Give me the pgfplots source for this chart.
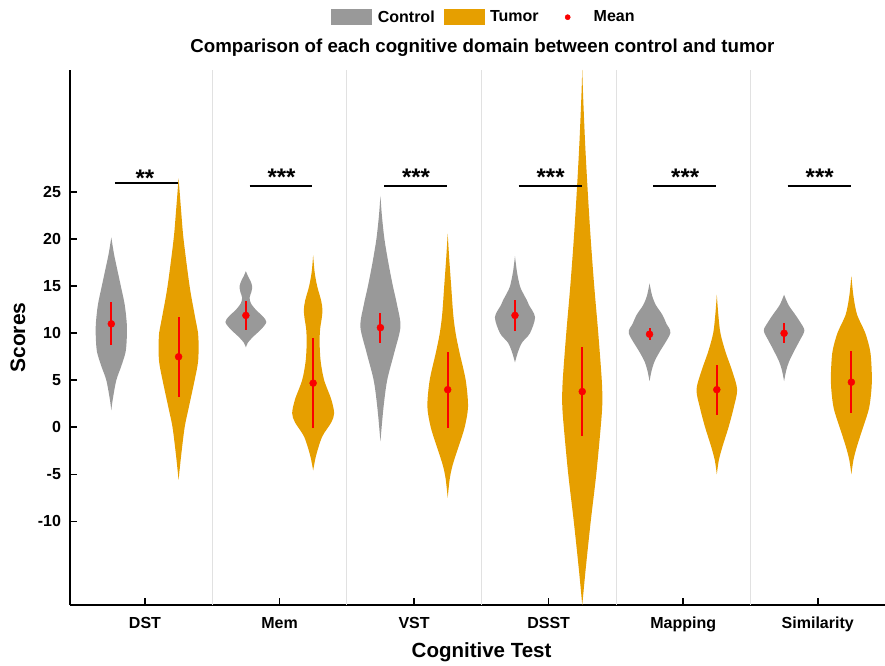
\documentclass[border=0pt]{standalone}
\usepackage{fontspec}
\setmainfont{Liberation Sans}
\usepackage{pgfplots}
\pgfplotsset{compat=1.18}
\usepgfplotslibrary{fillbetween}
\definecolor{ctrl}{RGB}{153,153,153}
\definecolor{tum}{RGB}{230,159,0}
\definecolor{sep}{RGB}{225,225,225}
\definecolor{meanred}{RGB}{250,0,0}
% #1 id, #2 centre, #3 colour, #4 table (y = score, w = half width in x units)
\newcommand{\violin}[4]{%
  \addplot[draw=none, smooth, name path=A#1, forget plot] table[x expr=#2+\thisrow{w}, y=y, row sep=\\]{#4};
  \addplot[draw=none, smooth, name path=B#1, forget plot] table[x expr=#2-\thisrow{w}, y=y, row sep=\\]{#4};
  \addplot[fill=#3, draw=none, forget plot] fill between[of=A#1 and B#1];
}
\newcommand{\sig}[2]{% centre, bar y
  \addplot[black, line width=1.6pt, forget plot] coordinates {(#1-0.223,#2) (#1+0.245,#2)};
}
\begin{document}
\begin{tikzpicture}
\begin{axis}[
  at={(70pt,60pt)}, anchor=south west,
  width=815pt, height=535pt, scale only axis,
  xmin=-0.557, xmax=5.5, ymin=-18.9, ymax=38,
  axis lines=left, axis line style={-, line width=2pt},
  tick align=inside, major tick length=7pt,
  tick style={black, line width=1.6pt},
  xtick={0,1,2,3,4,5},
  xticklabels={DST,Mem,VST,DSST,Mapping,Similarity},
  ytick={-10,-5,0,5,10,15,20,25},
  yticklabels={-10,-5,0,5,10,15,20,25},
  ticklabel style={font=\fontsize{16}{18}\selectfont\bfseries},
  xticklabel style={anchor=base, yshift=-23pt},
  yticklabel style={anchor=east, xshift=-5.5pt},
  xlabel={Cognitive Test}, ylabel={Scores},
  every axis x label/.style={at={(axis description cs:0.505,0)}, anchor=base, yshift=-52pt, font=\fontsize{20.5}{24}\selectfont\bfseries},
  every axis y label/.style={at={(axis description cs:-0.0552,0.5)}, anchor=base, rotate=90, font=\fontsize{21}{24}\selectfont\bfseries},
  title={Comparison of each cognitive domain between control and tumor},
  title style={at={(axis description cs:0.506,1)}, anchor=base, yshift=11pt, font=\fontsize{18.7}{22}\selectfont\bfseries},
  legend style={at={(axis description cs:0.508,1.0987)}, anchor=center, legend columns=3, draw=none, fill=none,
    font=\fontsize{16}{18}\selectfont\bfseries,
    /tikz/every odd column/.append style={column sep=4pt},
    /tikz/every even column/.append style={column sep=7pt}},
]
% separators
\addplot[sep, line width=0.8pt, forget plot] coordinates {(0.5,-18.9) (0.5,38)};
\addplot[sep, line width=0.8pt, forget plot] coordinates {(1.5,-18.9) (1.5,38)};
\addplot[sep, line width=0.8pt, forget plot] coordinates {(2.5,-18.9) (2.5,38)};
\addplot[sep, line width=0.8pt, forget plot] coordinates {(3.5,-18.9) (3.5,38)};
\addplot[sep, line width=0.8pt, forget plot] coordinates {(4.5,-18.9) (4.5,38)};

% DST
\violin{a}{-0.25}{ctrl}{y w\\ 1.8 0\\ 3 0.011\\ 5 0.037\\ 6.5 0.074\\ 8 0.106\\ 9.5 0.115\\ 11 0.115\\ 13 0.100\\ 15 0.071\\ 17 0.041\\ 18.5 0.019\\ 20.2 0\\}
\violin{b}{0.25}{tum}{y w\\ -5.6 0\\ -3 0.019\\ 0 0.045\\ 2 0.074\\ 5 0.119\\ 7 0.145\\ 9 0.149\\ 10 0.145\\ 12 0.119\\ 15 0.082\\ 20 0.037\\ 23 0.019\\ 26.5 0\\}
% Mem
\violin{c}{0.75}{ctrl}{y w\\ 8.5 0\\ 9 0.015\\ 9.6 0.052\\ 10.5 0.119\\ 11.2 0.152\\ 11.8 0.126\\ 12.5 0.074\\ 13.2 0.037\\ 13.8 0.028\\ 14.4 0.041\\ 15 0.047\\ 15.6 0.033\\ 16.1 0.015\\ 16.6 0\\}
\violin{d}{1.25}{tum}{y w\\ -4.6 0\\ -3 0.022\\ -1 0.067\\ 0.5 0.134\\ 1.5 0.156\\ 3 0.134\\ 5 0.082\\ 7 0.056\\ 9 0.048\\ 10.5 0.052\\ 11.5 0.063\\ 12.5 0.069\\ 13.5 0.059\\ 15 0.030\\ 16.5 0.011\\ 18.3 0\\}
% VST
\violin{e}{1.75}{ctrl}{y w\\ -1.5 0\\ 2 0.022\\ 5 0.050\\ 8 0.104\\ 10.7 0.149\\ 13 0.124\\ 15 0.093\\ 17.5 0.059\\ 20 0.030\\ 22.5 0.011\\ 24.6 0\\}
\violin{f}{2.25}{tum}{y w\\ -7.5 0\\ -5.5 0.015\\ -4 0.037\\ -2 0.082\\ 0 0.126\\ 2.2 0.151\\ 5 0.134\\ 8 0.087\\ 10 0.059\\ 12 0.041\\ 15 0.026\\ 18 0.011\\ 20.6 0\\}
% DSST
\violin{g}{2.75}{ctrl}{y w\\ 6.9 0\\ 8 0.022\\ 9 0.052\\ 10 0.111\\ 11.7 0.149\\ 13 0.104\\ 13.5 0.089\\ 14.3 0.059\\ 15 0.037\\ 16.5 0.015\\ 18.2 0\\}
\violin{h}{3.25}{tum}{y w\\ -18.9 0\\ -15 0.026\\ -10 0.063\\ -5 0.104\\ 0 0.137\\ 2.5 0.149\\ 5 0.145\\ 10 0.119\\ 15 0.089\\ 20 0.063\\ 25 0.041\\ 30 0.022\\ 35 0.007\\ 38 0\\}
% Mapping
\violin{i}{3.75}{ctrl}{y w\\ 4.9 0\\ 6 0.015\\ 7 0.037\\ 8 0.074\\ 10 0.154\\ 11 0.126\\ 12 0.094\\ 13 0.047\\ 14 0.019\\ 15.3 0\\}
\violin{j}{4.25}{tum}{y w\\ -5 0\\ -3.5 0.015\\ -2 0.043\\ 0 0.087\\ 2 0.124\\ 4 0.151\\ 6 0.114\\ 8 0.065\\ 10 0.027\\ 12 0.011\\ 14.1 0\\}
% Similarity
\violin{k}{4.75}{ctrl}{y w\\ 4.9 0\\ 6 0.015\\ 7 0.037\\ 8.5 0.089\\ 9.3 0.119\\ 10.3 0.151\\ 11.2 0.119\\ 12 0.082\\ 13 0.033\\ 14.1 0\\}
\violin{l}{5.25}{tum}{y w\\ -5 0\\ -3.5 0.015\\ -2 0.042\\ 0 0.087\\ 2 0.131\\ 4 0.149\\ 5.6 0.152\\ 8 0.141\\ 10 0.104\\ 12 0.042\\ 14 0.015\\ 16.1 0\\}

% significance bars
\sig{0}{26.0}
\sig{1}{25.64}
\sig{2}{25.64}
\sig{3}{25.64}
\sig{4}{25.64}
\sig{5}{25.64}
\node[anchor=base, inner sep=0pt, font=\fontsize{24}{24}\selectfont\bfseries] at (axis cs:0.0,25.65) {**};
\node[anchor=base, inner sep=0pt, font=\fontsize{24}{24}\selectfont\bfseries] at (axis cs:1.015,25.75) {***};
\node[anchor=base, inner sep=0pt, font=\fontsize{24}{24}\selectfont\bfseries] at (axis cs:2.015,25.75) {***};
\node[anchor=base, inner sep=0pt, font=\fontsize{24}{24}\selectfont\bfseries] at (axis cs:3.015,25.75) {***};
\node[anchor=base, inner sep=0pt, font=\fontsize{24}{24}\selectfont\bfseries] at (axis cs:4.015,25.75) {***};
\node[anchor=base, inner sep=0pt, font=\fontsize{24}{24}\selectfont\bfseries] at (axis cs:5.015,25.75) {***};

% means with error bars (mean +/- spread)
\addplot[only marks, mark=*, mark options={draw=meanred, fill=meanred}, mark size=3.5pt, forget plot,
  error bars/.cd, y dir=both, y explicit, error mark=none,
  error bar style={draw=meanred, line width=2pt}]
  table[x=x, y=y, y error=e] {
x y e
-0.25 11.0 2.3
0.25 7.5 4.25
0.75 11.9 1.55
1.25 4.7 4.75
1.75 10.6 1.6
2.25 4.0 4.05
2.75 11.9 1.65
3.25 3.8 4.75
3.75 9.9 0.65
4.25 4.0 2.65
4.75 10.0 1.05
5.25 4.8 3.3
};

% legend
\addlegendimage{legend image code/.code={\fill[ctrl] (0pt,-7.5pt) rectangle (40pt,7.5pt);}}
\addlegendentry{Control}
\addlegendimage{legend image code/.code={\fill[tum] (0pt,-7.5pt) rectangle (40pt,7.5pt);}}
\addlegendentry{Tumor}
\addlegendimage{legend image code/.code={\path[draw=none, fill=none] (0pt,-7.5pt) rectangle (40pt,7.5pt); \fill[meanred] (20pt,0pt) circle (2.6pt);}}
\addlegendentry{Mean}
\end{axis}
\pgfresetboundingbox
\path[use as bounding box] (0,0) rectangle (885pt,665pt);
\end{tikzpicture}
\end{document}
